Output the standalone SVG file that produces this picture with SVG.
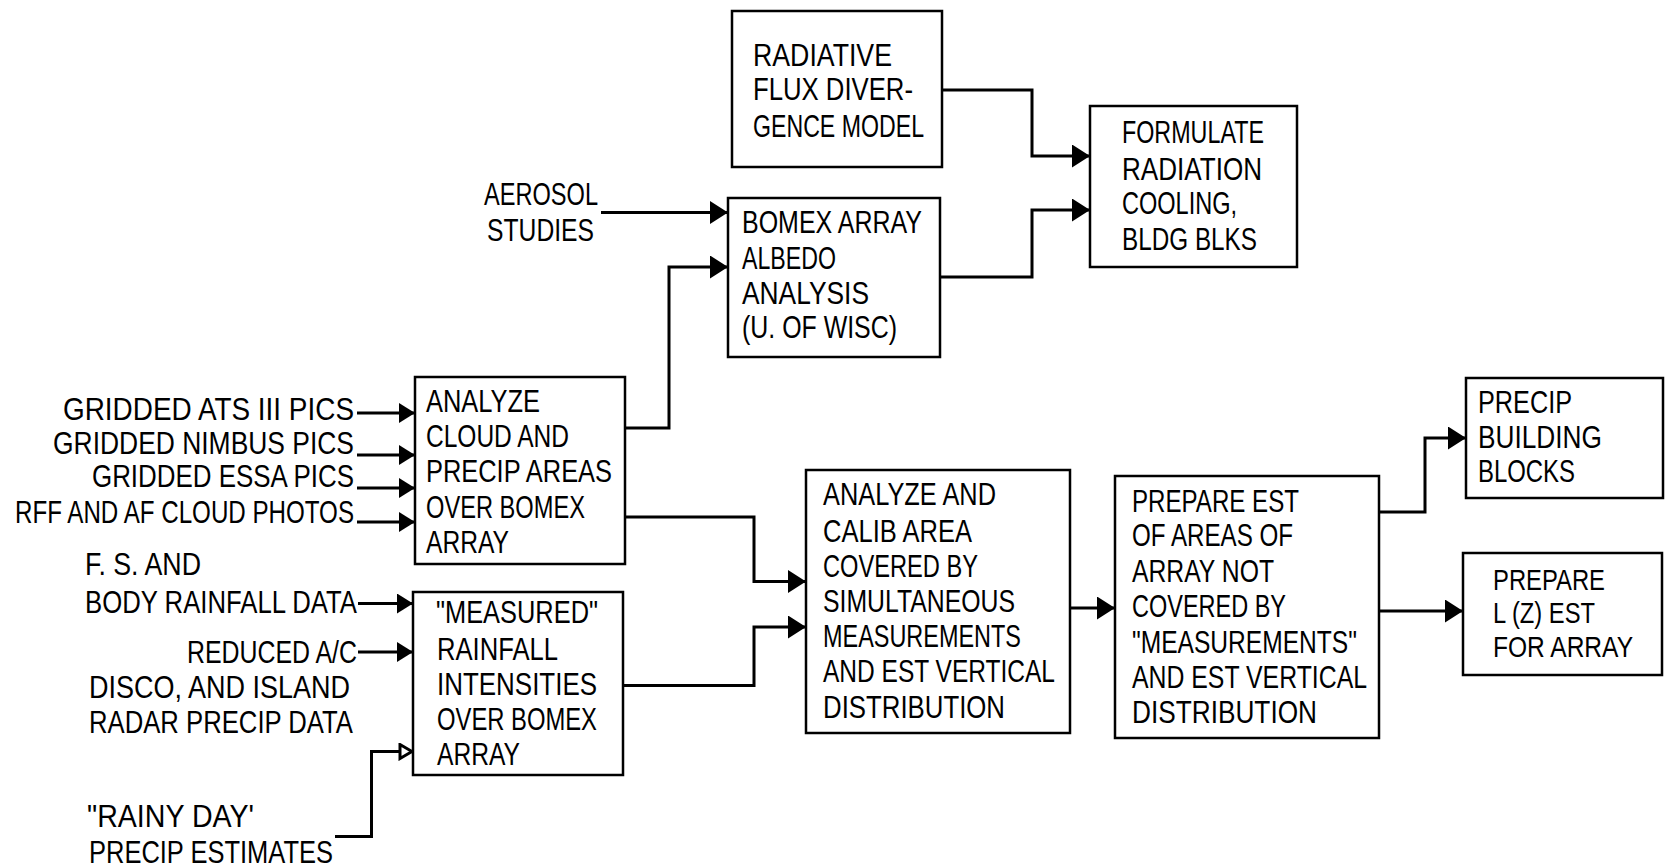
<svg xmlns="http://www.w3.org/2000/svg" width="1668" height="868" viewBox="0 0 1668 868">
<style>
.box{fill:#fff;stroke:#000;stroke-width:2.5}
.c{fill:none;stroke:#000;stroke-width:3;stroke-linejoin:miter}
text{font-family:"Liberation Sans Narrow","Liberation Sans",Arial,sans-serif;font-size:31px;fill:#000}
.big{font-size:32px}
.big2{font-size:32px}
.sm{font-size:30px}
</style>
<defs>
<marker id="ah" markerUnits="userSpaceOnUse" markerWidth="19" markerHeight="23" refX="18" refY="11.5" orient="auto" viewBox="0 0 19 23"><path d="M0,0 L18,11.5 L0,23 z" fill="#000"/></marker>
<marker id="ahs" markerUnits="userSpaceOnUse" markerWidth="17" markerHeight="20" refX="16" refY="10" orient="auto" viewBox="0 0 17 20"><path d="M0,0 L16,10 L0,20 z" fill="#000"/></marker>
<marker id="aho" markerUnits="userSpaceOnUse" markerWidth="16" markerHeight="18" refX="15" refY="9" orient="auto" viewBox="0 0 16 18"><path d="M2,2 L14,9 L2,16 z" fill="#fff" stroke="#000" stroke-width="3"/></marker>
</defs>

<g id="connectors">
<path class="c" d="M942,90 H1032 V156 H1090" marker-end="url(#ah)"/>
<path class="c" d="M940,277 H1032 V210 H1090" marker-end="url(#ah)"/>
<path class="c" d="M601,212.5 H728" marker-end="url(#ah)"/>
<path class="c" d="M625,428 H669 V267 H728" marker-end="url(#ah)"/>
<path class="c" d="M357,413 H415" marker-end="url(#ahs)"/>
<path class="c" d="M357,455 H415" marker-end="url(#ahs)"/>
<path class="c" d="M357,488 H415" marker-end="url(#ahs)"/>
<path class="c" d="M357,522 H415" marker-end="url(#ahs)"/>
<path class="c" d="M358,603.5 H413" marker-end="url(#ahs)"/>
<path class="c" d="M358,652 H413" marker-end="url(#ahs)"/>
<path class="c" d="M335,836.5 H371.5 V751.5 H413" marker-end="url(#aho)"/>
<path class="c" d="M625,517 H754 V581.5 H806" marker-end="url(#ah)"/>
<path class="c" d="M623,685.5 H754 V627 H806" marker-end="url(#ah)"/>
<path class="c" d="M1070,608 H1115" marker-end="url(#ah)"/>
<path class="c" d="M1379,512 H1425 V438 H1466" marker-end="url(#ah)"/>
<path class="c" d="M1379,611 H1463" marker-end="url(#ah)"/>
</g>

<g id="radiative">
<rect class="box" x="732" y="11" width="210" height="156"/>
<text class="big" x="753" y="66" textLength="139" lengthAdjust="spacingAndGlyphs">RADIATIVE</text>
<text class="big" x="753" y="100" textLength="160" lengthAdjust="spacingAndGlyphs">FLUX DIVER-</text>
<text class="big" x="753" y="136.5" textLength="171" lengthAdjust="spacingAndGlyphs">GENCE MODEL</text>
</g>

<g id="formulate">
<rect class="box" x="1090" y="106" width="207" height="161"/>
<text class="big" x="1122" y="143" textLength="142" lengthAdjust="spacingAndGlyphs">FORMULATE</text>
<text class="big" x="1122" y="180" textLength="140" lengthAdjust="spacingAndGlyphs">RADIATION</text>
<text class="big" x="1122" y="214" textLength="115" lengthAdjust="spacingAndGlyphs">COOLING,</text>
<text class="big" x="1122" y="250" textLength="135" lengthAdjust="spacingAndGlyphs">BLDG BLKS</text>
</g>

<g id="aerosol">
<text x="484" y="205" textLength="114" lengthAdjust="spacingAndGlyphs">AEROSOL</text>
<text x="487" y="241" textLength="107" lengthAdjust="spacingAndGlyphs">STUDIES</text>
</g>

<g id="bomex">
<rect class="box" x="728" y="198" width="212" height="159"/>
<text x="742" y="233" textLength="180" lengthAdjust="spacingAndGlyphs">BOMEX ARRAY</text>
<text x="742" y="268.5" textLength="94" lengthAdjust="spacingAndGlyphs">ALBEDO</text>
<text x="742" y="303.5" textLength="127" lengthAdjust="spacingAndGlyphs">ANALYSIS</text>
<text x="742" y="338" textLength="155" lengthAdjust="spacingAndGlyphs">(U. OF WISC)</text>
</g>

<g id="inputs-clouds">
<text x="63" y="420" textLength="291" lengthAdjust="spacingAndGlyphs">GRIDDED ATS III PICS</text>
<text x="53" y="453.5" textLength="301" lengthAdjust="spacingAndGlyphs">GRIDDED NIMBUS PICS</text>
<text x="92" y="487" textLength="262" lengthAdjust="spacingAndGlyphs">GRIDDED ESSA PICS</text>
<text x="15" y="523" textLength="339" lengthAdjust="spacingAndGlyphs">RFF AND AF CLOUD PHOTOS</text>
</g>

<g id="analyze">
<rect class="box" x="415" y="377" width="210" height="187"/>
<text x="426" y="412" textLength="114" lengthAdjust="spacingAndGlyphs">ANALYZE</text>
<text x="426" y="447" textLength="143" lengthAdjust="spacingAndGlyphs">CLOUD AND</text>
<text x="426" y="482" textLength="186" lengthAdjust="spacingAndGlyphs">PRECIP AREAS</text>
<text x="426" y="518" textLength="159" lengthAdjust="spacingAndGlyphs">OVER BOMEX</text>
<text x="426" y="553" textLength="83" lengthAdjust="spacingAndGlyphs">ARRAY</text>
</g>

<g id="inputs-rain">
<text x="85" y="575" textLength="116" lengthAdjust="spacingAndGlyphs">F. S. AND</text>
<text x="85" y="613" textLength="272" lengthAdjust="spacingAndGlyphs">BODY RAINFALL DATA</text>
<text x="187" y="663" textLength="170" lengthAdjust="spacingAndGlyphs">REDUCED A/C</text>
<text x="89" y="698" textLength="261" lengthAdjust="spacingAndGlyphs">DISCO, AND ISLAND</text>
<text x="89" y="733" textLength="264" lengthAdjust="spacingAndGlyphs">RADAR PRECIP DATA</text>
<text x="87" y="827" textLength="167" lengthAdjust="spacingAndGlyphs">"RAINY DAY'</text>
<text x="89" y="863" textLength="244" lengthAdjust="spacingAndGlyphs">PRECIP ESTIMATES</text>
</g>

<g id="measured">
<rect class="box" x="413" y="592" width="210" height="183"/>
<text x="436" y="623" textLength="162" lengthAdjust="spacingAndGlyphs">"MEASURED"</text>
<text x="437" y="660" textLength="121" lengthAdjust="spacingAndGlyphs">RAINFALL</text>
<text x="437" y="695" textLength="160" lengthAdjust="spacingAndGlyphs">INTENSITIES</text>
<text x="437" y="730" textLength="160" lengthAdjust="spacingAndGlyphs">OVER BOMEX</text>
<text x="437" y="765" textLength="83" lengthAdjust="spacingAndGlyphs">ARRAY</text>
</g>

<g id="calib">
<rect class="box" x="806" y="470" width="264" height="263"/>
<text x="823" y="505" textLength="173" lengthAdjust="spacingAndGlyphs">ANALYZE AND</text>
<text x="823" y="541.5" textLength="149" lengthAdjust="spacingAndGlyphs">CALIB AREA</text>
<text x="823" y="577" textLength="155" lengthAdjust="spacingAndGlyphs">COVERED BY</text>
<text x="823" y="612" textLength="192" lengthAdjust="spacingAndGlyphs">SIMULTANEOUS</text>
<text x="823" y="647" textLength="198" lengthAdjust="spacingAndGlyphs">MEASUREMENTS</text>
<text x="823" y="682" textLength="232" lengthAdjust="spacingAndGlyphs">AND EST VERTICAL</text>
<text x="823" y="718" textLength="182" lengthAdjust="spacingAndGlyphs">DISTRIBUTION</text>
</g>

<g id="prepare-est">
<rect class="box" x="1115" y="476" width="264" height="262"/>
<text x="1132" y="512" textLength="167" lengthAdjust="spacingAndGlyphs">PREPARE EST</text>
<text x="1132" y="546" textLength="161" lengthAdjust="spacingAndGlyphs">OF AREAS OF</text>
<text x="1132" y="582" textLength="142" lengthAdjust="spacingAndGlyphs">ARRAY NOT</text>
<text x="1132" y="617" textLength="154" lengthAdjust="spacingAndGlyphs">COVERED BY</text>
<text x="1132" y="653" textLength="225" lengthAdjust="spacingAndGlyphs">"MEASUREMENTS"</text>
<text x="1132" y="688" textLength="235" lengthAdjust="spacingAndGlyphs">AND EST VERTICAL</text>
<text x="1132" y="723" textLength="185" lengthAdjust="spacingAndGlyphs">DISTRIBUTION</text>
</g>

<g id="precip-blocks">
<rect class="box" x="1466" y="378" width="197" height="120"/>
<text class="big2" x="1478" y="413" textLength="94" lengthAdjust="spacingAndGlyphs">PRECIP</text>
<text class="big2" x="1478" y="448" textLength="124" lengthAdjust="spacingAndGlyphs">BUILDING</text>
<text class="big2" x="1478" y="482" textLength="97" lengthAdjust="spacingAndGlyphs">BLOCKS</text>
</g>

<g id="prepare-lz">
<rect class="box" x="1463" y="553" width="199" height="122"/>
<text class="sm" x="1493" y="590" textLength="112" lengthAdjust="spacingAndGlyphs">PREPARE</text>
<text class="sm" x="1493" y="623" textLength="102" lengthAdjust="spacingAndGlyphs">L (Z) EST</text>
<text class="sm" x="1493" y="657" textLength="140" lengthAdjust="spacingAndGlyphs">FOR ARRAY</text>
</g>
</svg>
